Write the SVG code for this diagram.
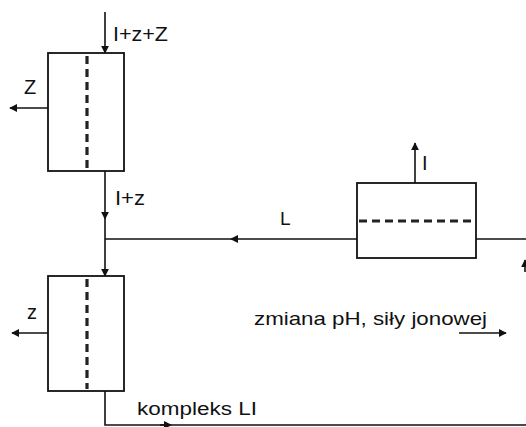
<svg xmlns="http://www.w3.org/2000/svg" width="526" height="427" viewBox="0 0 526 427">
<defs>
<marker id="ah" viewBox="0 0 10 10" refX="9" refY="5" markerWidth="8" markerHeight="8" orient="auto" markerUnits="userSpaceOnUse">
<path d="M0,0 L10,5 L0,10 Z" fill="#111"/>
</marker>
<marker id="mid" viewBox="0 0 10 10" refX="5" refY="5" markerWidth="8" markerHeight="8" orient="auto" markerUnits="userSpaceOnUse">
<path d="M0,0 L10,5 L0,10 Z" fill="#111"/>
</marker>
</defs>
<style>
.box{fill:#fff;stroke:#111;stroke-width:1.8}
.ln{fill:none;stroke:#111;stroke-width:1.6}
.dv{fill:none;stroke:#222;stroke-width:3.2;stroke-dasharray:8 5}
.t{font-family:"Liberation Sans",Arial,sans-serif;fill:#111}
</style>
<rect width="526" height="427" fill="#fff"/>
<g id="connectors">
<line class="ln" x1="105" y1="12" x2="105" y2="53" marker-end="url(#ah)"/>
<line class="ln" x1="48" y1="108" x2="10" y2="108" marker-end="url(#ah)"/>
<line class="ln" x1="105" y1="171" x2="105" y2="219" marker-end="url(#ah)"/>
<line class="ln" x1="105" y1="219" x2="105" y2="276" marker-end="url(#ah)"/>
<line class="ln" x1="357" y1="239" x2="234" y2="239" marker-end="url(#mid)"/>
<line class="ln" x1="234" y1="239" x2="105" y2="239"/>
<line class="ln" x1="415" y1="183" x2="415" y2="143" marker-end="url(#ah)"/>
<line class="ln" x1="476" y1="239" x2="526" y2="239"/>
<line class="ln" x1="525" y1="272" x2="525" y2="260" marker-end="url(#ah)"/>
<line class="ln" x1="48" y1="333" x2="12" y2="333" marker-end="url(#ah)"/>
<polyline class="ln" points="105,391 105,425 526,425"/>
<line class="ln" x1="160" y1="425" x2="168" y2="425" marker-end="url(#mid)"/>
<line class="ln" x1="459" y1="333" x2="506" y2="333" marker-end="url(#ah)"/>
</g>
<g id="col1">
<rect class="box" x="48" y="53" width="76" height="118"/>
<line class="dv" x1="87" y1="56" x2="87" y2="169"/>
</g>
<g id="col2">
<rect class="box" x="48" y="276" width="76" height="115"/>
<line class="dv" x1="87" y1="279" x2="87" y2="389"/>
</g>
<g id="col3">
<rect class="box" x="357" y="183" width="119" height="75"/>
<line class="dv" x1="359" y1="221" x2="474" y2="221"/>
</g>
<g id="labels">
<text class="t" x="113" y="41" font-size="21" textLength="55" lengthAdjust="spacingAndGlyphs">I+z+Z</text>
<text class="t" x="24" y="94" font-size="20">Z</text>
<text class="t" x="115" y="205" font-size="21" textLength="30" lengthAdjust="spacingAndGlyphs">I+z</text>
<text class="t" x="280" y="225" font-size="19">L</text>
<text class="t" x="422" y="170" font-size="20">I</text>
<text class="t" x="27" y="319" font-size="20">z</text>
<text class="t" x="254" y="325" font-size="19" textLength="233" lengthAdjust="spacingAndGlyphs">zmiana pH, siły jonowej</text>
<text class="t" x="137" y="415" font-size="18" textLength="120" lengthAdjust="spacingAndGlyphs">kompleks LI</text>
</g>
</svg>
